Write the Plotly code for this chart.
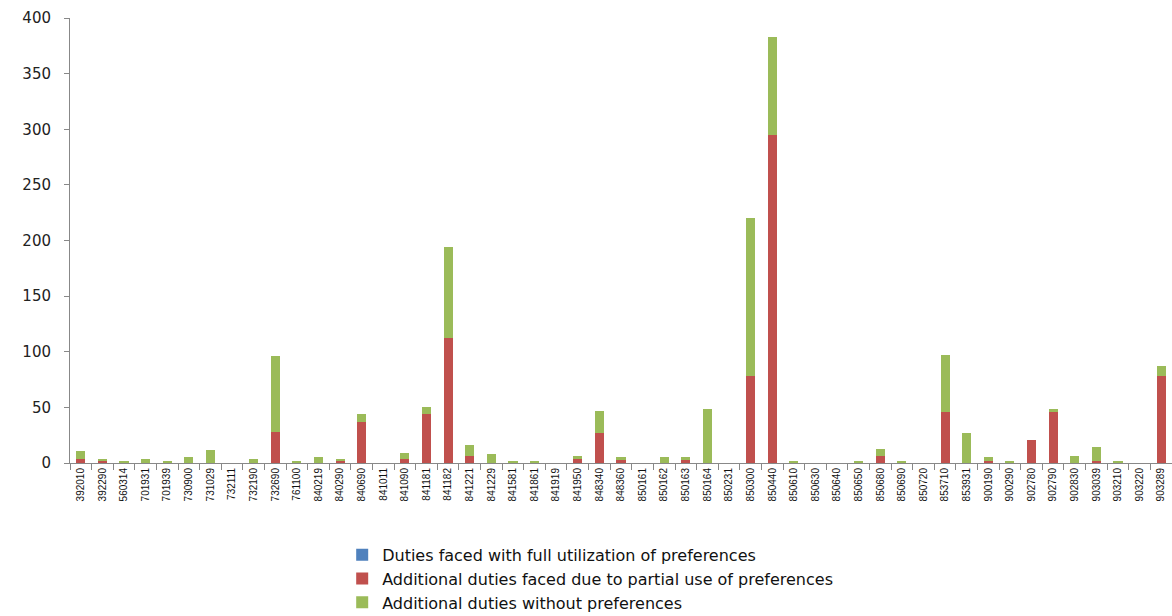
import plotly.graph_objects as go

categories = ["392010", "392290", "560314", "701931", "701939", "730900", "731029", "732111",
              "732190", "732690", "761100", "840219", "840290", "840690", "841011", "841090",
              "841181", "841182", "841221", "841229", "841581", "841861", "841919", "841950",
              "848340", "848360", "850161", "850162", "850163", "850164", "850231", "850300",
              "850440", "850610", "850630", "850640", "850650", "850680", "850690", "850720",
              "853710", "853931", "900190", "900290", "902780", "902790", "902830", "903039",
              "903210", "903220", "903289"]

full_util = [0] * 51

partial_use = [4, 2, 0, 0, 0, 0, 0, 0,
               0, 28, 0, 0, 2.5, 37, 0, 3.5,
               44, 112, 6.5, 0, 0, 0, 0, 3.5,
               27, 3.5, 0, 0, 3.5, 0, 0, 78,
               295, 0, 0, 0, 0, 6.5, 0, 0,
               46, 0, 2, 0, 21, 46, 0, 2,
               0, 0, 78]

without_pref = [7, 1.5, 2, 3.5, 2, 5, 12, 0,
                3.5, 68, 2, 5, 1, 7, 0, 5.5,
                6, 82, 10, 8, 2, 2, 0, 3,
                20, 1.5, 0, 5, 1.5, 48.5, 0, 142,
                88, 2, 0, 0, 2, 6, 2, 0,
                51, 27, 3, 2, 0, 2.7, 6.5, 12,
                2, 0, 9]

series_names = ["Duties faced with full utilization of preferences",
                "Additional duties faced due to partial use of preferences",
                "Additional duties without preferences"]
colors = ["#4F81BD", "#C0504D", "#9BBB59"]

fig = go.Figure()
for name, vals, col in zip(series_names, [full_util, partial_use, without_pref], colors):
    fig.add_trace(go.Bar(x=categories, y=vals, name=name,
                         marker=dict(color=col, line=dict(width=0))))

fig.update_layout(
    barmode="stack",
    bargap=0.58,
    width=1172, height=616,
    margin=dict(l=70, r=0, t=18, b=153, autoexpand=False),
    plot_bgcolor="white", paper_bgcolor="white",
    font=dict(family="Liberation Sans, Arial, sans-serif", color="#222"),
    showlegend=True,
    legend=dict(x=0.247, y=-0.168, xanchor="left", yanchor="top",
                traceorder="normal",
                font=dict(size=16, color="#111", family="DejaVu Sans, sans-serif"),
                tracegroupgap=0, itemwidth=30),
    xaxis=dict(type="category", tickangle=-90, tickfont=dict(size=10, color="#111"),
               showline=True, linecolor="#888", linewidth=1,
               ticks="outside", tickson="boundaries", ticklen=6, tickcolor="#888",
               showgrid=False),
    yaxis=dict(range=[0, 400], dtick=50,
               tickfont=dict(size=15, color="#222", family="DejaVu Sans, sans-serif"),
               showline=True, linecolor="#888", linewidth=1,
               ticks="outside", ticklen=5, tickcolor="#888", ticklabelstandoff=10,
               showgrid=False, zeroline=False),
)

fig.write_html("out.html")
